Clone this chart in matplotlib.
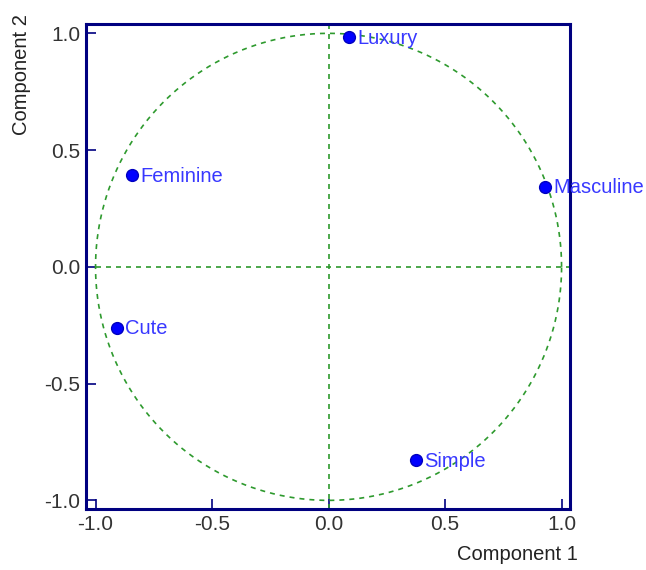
import numpy as np
import matplotlib.pyplot as plt

plt.rcParams['font.family'] = ['Liberation Sans', 'DejaVu Sans']

# loadings on the first two components
names = ["Luxury", "Feminine", "Masculine", "Cute", "Simple"]
comp1 = [0.089, -0.842, 0.929, -0.909, 0.376]
comp2 = [0.985, 0.394, 0.343, -0.260, -0.827]
ticks = [-1.0, -0.5, 0.0, 0.5, 1.0]

navy = "#000080"
green = "#2e9a2e"

fig = plt.figure(figsize=(6.46, 5.70), dpi=100)
ax = fig.add_axes([0.1331, 0.1070, 0.7492, 0.8509])

# unit circle and axes through the origin
t = np.linspace(0, 2 * np.pi, 400)
ax.plot(np.cos(t), np.sin(t), color=green, lw=1.2, dashes=(3, 3))
ax.axhline(0, xmin=0.02, color=green, lw=1.2, dashes=(3, 3))
ax.axvline(0, color=green, lw=1.2, dashes=(3, 3))

ax.plot(comp1, comp2, 'o', color="#0000ff", markersize=8.5, markeredgecolor="#0000c0")
for n, x, y in zip(names, comp1, comp2):
    ax.text(x + 0.035, y - 0.005, n, color="#3838ff", fontsize=14.5, va='center', ha='left')

ax.set_xlim(-1.041, 1.036)
ax.set_ylim(-1.037, 1.040)
ax.set_xticks(ticks)
ax.set_yticks(ticks)
ax.set_xticklabels(["%.1f" % v for v in ticks])
ax.set_yticklabels(["%.1f" % v for v in ticks])
ax.tick_params(direction='in', length=7, width=1.2, color=navy,
               labelsize=15, labelcolor="#333333", pad=4)
for s in ax.spines.values():
    s.set_color(navy)
    s.set_linewidth(2.2)

fig.text(578 / 646, 1 - 555 / 570, "Component 1", fontsize=14.5, color="#222222",
         ha='right', va='center')
fig.text(22 / 646, 1 - 75 / 570, "Component 2", fontsize=14.5, color="#222222",
         ha='center', va='center', rotation=90)

fig.savefig("out.png", dpi=100)
